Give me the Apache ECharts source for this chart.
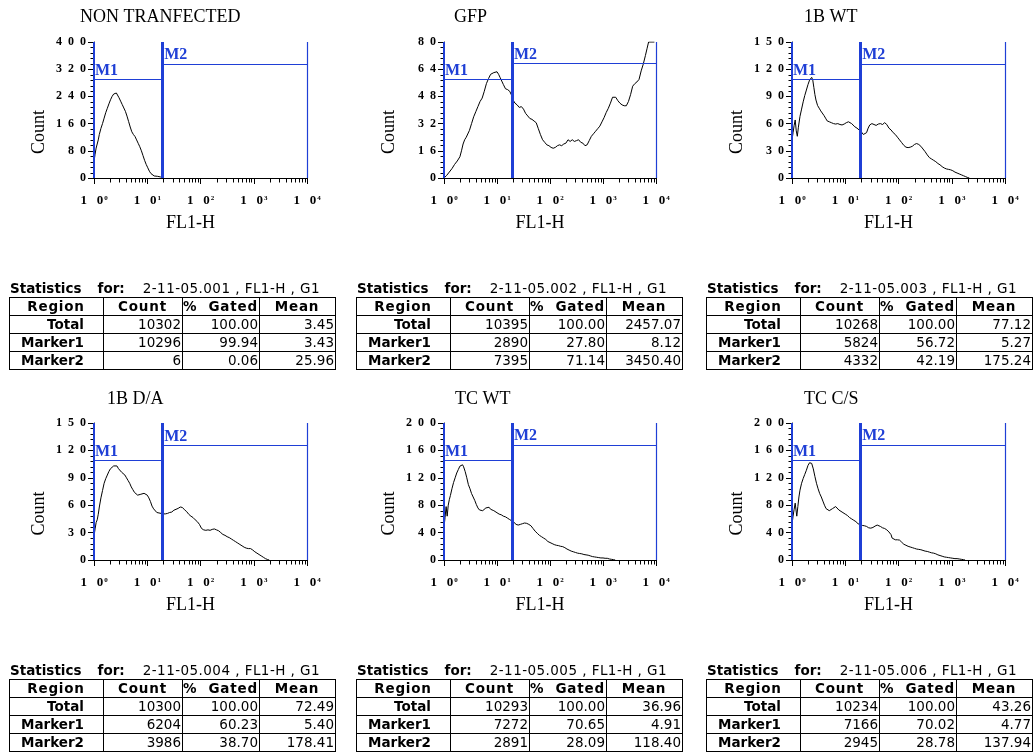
<!DOCTYPE html>
<html>
<head>
<meta charset="utf-8">
<script src="https://cdn.jsdelivr.net/npm/echarts@6/dist/echarts.min.js"></script>
<style>
html, body { margin: 0; padding: 0; background: #fff; overflow: hidden; }
#chart { position: absolute; left: 0; top: 0; width: 1034px; height: 752px; }
.stat { position: absolute; font-family: "DejaVu Sans", sans-serif; color: #000; }
.stat .cap { font-size: 13.5px; height: 18px; line-height: 18px; white-space: nowrap; padding-left: 1px; }
.stat .cap b { font-weight: bold; }
.stat .cap .for { margin-left: 16px; margin-right: 18px; }
.stat .cap .file { letter-spacing: 0.45px; }
.stat table { border-collapse: collapse; table-layout: fixed; width: 326px; }
.stat td { border: 1px solid #000; height: 17px; padding: 0 1px 0 0; font-size: 13.5px; line-height: 17px;
  text-align: right; white-space: nowrap; overflow: hidden; }
.stat tr.h td { text-align: center; font-weight: bold; letter-spacing: 0.8px; }
.stat td.r { font-weight: bold; padding-right: 19px; }
</style>
</head>
<body>
<div id="chart"></div>
<script>
// histogram traces: [FL1-H decade (log10), count]
var ntHist = [[0.00,48],[0.02,70],[0.04,88],[0.06,100],[0.08,112],[0.10,128],[0.13,146],[0.16,160],[0.19,176],[0.22,192],
  [0.25,205],[0.28,218],[0.31,230],[0.34,240],[0.37,247],[0.40,252],[0.42,250],[0.44,246],[0.47,236],[0.50,226],
  [0.53,216],[0.56,206],[0.59,196],[0.62,182],[0.65,166],[0.68,150],[0.71,136],[0.74,128],[0.77,122],[0.80,112],
  [0.83,102],[0.86,92],[0.89,80],[0.92,66],[0.95,52],[0.98,40],[1.01,30],[1.04,20],[1.07,13],[1.10,9],
  [1.13,6],[1.16,6],[1.19,5],[1.22,4],[1.25,3],[1.28,1],[1.30,0]];
var gfpHist = [[0.00,0],[0.05,1.5],[0.10,3.5],[0.15,5.5],[0.20,8],[0.25,10],[0.30,12.5],[0.33,16],[0.36,20],[0.39,22.5],
  [0.42,24],[0.45,25],[0.48,28],[0.52,32],[0.56,36],[0.60,39],[0.64,42],[0.68,45],[0.72,47],[0.76,51],
  [0.80,55.5],[0.84,58.5],[0.88,61],[0.91,61],[0.94,62],[0.97,61.5],[1.00,62.5],[1.03,61],[1.06,59],[1.09,57],
  [1.12,55],[1.16,52.5],[1.20,52],[1.24,51],[1.27,49],[1.30,46],[1.34,44],[1.38,43],[1.42,41.5],[1.46,42],
  [1.50,40.5],[1.54,38],[1.58,36.5],[1.62,35],[1.66,34.5],[1.70,33.5],[1.74,32.5],[1.78,29],[1.82,25.5],[1.86,22.5],
  [1.90,21],[1.94,19.5],[1.98,19],[2.02,18],[2.06,17.5],[2.10,18],[2.14,19],[2.18,19.5],[2.22,19],[2.26,20],
  [2.30,20.5],[2.34,22.5],[2.38,21.5],[2.42,22.5],[2.46,21.5],[2.50,22],[2.54,22.5],[2.58,21],[2.62,20.5],[2.66,19],
  [2.70,19.5],[2.74,22],[2.78,24.5],[2.82,26],[2.86,27.5],[2.90,29],[2.94,30.5],[2.98,33],[3.02,35.5],[3.06,38.5],
  [3.10,41],[3.14,44],[3.18,47.5],[3.21,48.5],[3.24,47.5],[3.28,45.5],[3.32,44],[3.36,43],[3.40,42.5],[3.44,42.5],
  [3.48,45],[3.52,49],[3.56,54],[3.60,55.5],[3.64,56.5],[3.68,58],[3.72,63],[3.76,67],[3.80,72],[3.83,76],
  [3.86,80],[3.97,80]];
var wt1bHist = [[0.00,42],[0.02,50],[0.04,58],[0.06,64],[0.08,52],[0.10,46],[0.12,56],[0.15,68],[0.18,76],[0.21,84],
  [0.24,91],[0.27,97],[0.30,103],[0.33,108],[0.35,110],[0.37,111],[0.39,108],[0.41,100],[0.43,92],[0.45,86],
  [0.48,80],[0.51,77],[0.54,74],[0.57,72],[0.60,69],[0.63,66],[0.66,63],[0.70,62],[0.74,61],[0.78,60],
  [0.82,59.5],[0.86,60],[0.90,59],[0.94,58.5],[0.98,59.5],[1.02,61],[1.06,62],[1.09,61],[1.12,60],[1.15,58],
  [1.18,56.5],[1.22,55],[1.26,53],[1.30,51],[1.34,48],[1.37,47],[1.40,50],[1.43,55],[1.46,58.5],[1.50,60],
  [1.54,59],[1.58,58],[1.62,59.5],[1.66,60],[1.70,59],[1.74,61],[1.78,59],[1.82,55],[1.86,53],[1.90,50],
  [1.94,48],[1.98,45],[2.02,42],[2.06,39],[2.10,36],[2.14,34],[2.18,33.5],[2.22,34],[2.26,35],[2.30,37],
  [2.34,38],[2.38,37],[2.42,35],[2.46,32],[2.50,29],[2.54,25.5],[2.58,22.5],[2.62,21],[2.66,19.5],[2.70,18],
  [2.74,16],[2.78,14.5],[2.82,12.5],[2.86,11],[2.90,10],[2.94,9.5],[2.98,9],[3.02,8],[3.06,6.5],[3.10,5.5],
  [3.14,4.5],[3.18,3.5],[3.22,2.5],[3.26,1.5],[3.30,0.5],[3.33,0]];
var da1bHist = [[0.00,26],[0.02,34],[0.04,41],[0.06,44],[0.08,50],[0.10,58],[0.13,68],[0.16,76],[0.19,84],[0.22,89],
  [0.25,93],[0.28,97],[0.31,100],[0.34,102],[0.37,103],[0.40,104],[0.43,103],[0.46,100],[0.49,98],[0.52,96],
  [0.55,95],[0.58,93],[0.61,90],[0.64,87],[0.67,84],[0.70,80],[0.73,77],[0.76,74],[0.79,72],[0.82,71],
  [0.85,72],[0.88,72],[0.91,72],[0.94,73],[0.97,73],[1.00,71],[1.03,68],[1.06,64],[1.09,59],[1.12,56],
  [1.15,54],[1.18,52],[1.22,51.5],[1.26,51],[1.30,50.5],[1.34,50.5],[1.38,51],[1.42,52],[1.46,52.5],[1.50,54.5],
  [1.54,55.5],[1.58,56.5],[1.62,58],[1.66,57.5],[1.70,55],[1.74,53],[1.78,50],[1.82,48],[1.86,46.5],[1.90,44],
  [1.94,42],[1.98,39],[2.02,34.5],[2.06,33],[2.10,32.5],[2.14,33],[2.18,32.5],[2.22,33.5],[2.26,34],[2.30,33],
  [2.34,32],[2.38,30],[2.42,28],[2.46,27],[2.50,25.5],[2.54,24.5],[2.58,23],[2.62,21.5],[2.66,20],[2.70,18.5],
  [2.74,17],[2.78,15.5],[2.82,14],[2.86,13],[2.90,12.5],[2.94,12.5],[2.98,11],[3.02,9],[3.06,7.5],[3.10,6],
  [3.14,4.5],[3.18,3],[3.22,1.5],[3.26,0.5],[3.29,0]];
var tcWtHist = [[0.00,48],[0.02,62],[0.04,78],[0.06,64],[0.08,80],[0.10,88],[0.12,94],[0.15,104],[0.18,113],[0.21,120],
  [0.24,127],[0.27,132],[0.30,137],[0.33,139],[0.35,139],[0.37,136],[0.40,129],[0.43,120],[0.46,110],[0.49,104],
  [0.52,97],[0.55,92],[0.58,87],[0.61,81],[0.64,76],[0.67,73],[0.70,71],[0.73,72],[0.76,73],[0.79,76],
  [0.82,77],[0.85,77],[0.88,74],[0.91,73],[0.94,72],[0.97,70],[1.00,69],[1.04,67],[1.08,66],[1.12,64],
  [1.16,63],[1.20,61],[1.24,59],[1.28,57],[1.32,55],[1.36,52],[1.40,51],[1.44,52],[1.48,53],[1.52,54],
  [1.56,53.5],[1.60,52],[1.64,50],[1.68,46],[1.72,42],[1.76,39],[1.80,36],[1.84,34],[1.88,32],[1.92,30],
  [1.96,27],[2.00,25.5],[2.04,24],[2.08,22.5],[2.12,21.5],[2.16,21],[2.20,20],[2.24,19.5],[2.28,18],[2.32,16],
  [2.36,14.5],[2.40,13],[2.44,12],[2.48,11],[2.52,10],[2.56,9.5],[2.60,9],[2.64,8],[2.68,7.5],[2.72,7],
  [2.76,6],[2.80,5],[2.84,4.5],[2.88,4],[2.92,3.5],[2.96,3],[3.00,3],[3.04,2.5],[3.08,2.5],[3.12,1.5],
  [3.16,1],[3.20,0.5],[3.23,0]];
var tcCsHist = [[0.00,52],[0.02,64],[0.04,74],[0.06,83],[0.08,70],[0.09,64],[0.11,78],[0.13,92],[0.15,102],[0.18,112],
  [0.21,119],[0.24,125],[0.27,131],[0.30,138],[0.33,142],[0.35,144],[0.37,141],[0.40,133],[0.43,122],[0.46,112],
  [0.49,104],[0.52,97],[0.55,92],[0.58,86],[0.61,80],[0.64,75],[0.67,73],[0.70,72],[0.73,73],[0.76,75],
  [0.79,77],[0.82,78],[0.85,76],[0.88,73],[0.91,72],[0.94,70],[0.97,68],[1.00,67],[1.04,65],[1.08,62],
  [1.12,60],[1.16,58],[1.20,56],[1.24,53],[1.28,51.5],[1.32,50.5],[1.36,50],[1.40,49],[1.44,47],[1.48,46.5],
  [1.52,47.5],[1.56,49.5],[1.60,51],[1.63,51.5],[1.66,49],[1.70,47],[1.74,46],[1.78,44],[1.82,41],[1.86,37],
  [1.88,32],[1.90,30],[1.94,29.5],[1.98,29.5],[2.02,29],[2.06,26],[2.10,23],[2.14,21.5],[2.18,20],[2.22,19],
  [2.26,18],[2.30,17],[2.34,16],[2.38,15.5],[2.42,15],[2.46,14],[2.50,13],[2.54,12.5],[2.58,11.5],[2.62,10.5],
  [2.66,10],[2.70,9],[2.74,7.5],[2.78,6.5],[2.82,5.5],[2.86,4.5],[2.90,4],[2.94,3.5],[2.98,3],[3.02,2.5],
  [3.06,2],[3.10,2],[3.14,1.5],[3.18,1],[3.22,0.5],[3.25,0]];

var panelTitles = ['NON TRANFECTED', 'GFP', '1B WT', '1B D/A', 'TC WT', 'TC C/S'];
var histograms = [ntHist, gfpHist, wt1bHist, da1bHist, tcWtHist, tcCsHist];
var countMax = [400, 80, 150, 150, 200, 200];
// marker gates (decades) and the height of each marker bar (counts)
var m1Gate = [0, 1.27];
var m2Gate = [1.30, 4];
var m1Level = [290, 58, 108.5, 109, 145, 145];
var m2Level = [336, 67.3, 125.6, 125.5, 167.4, 167.4];

// statistics tables
var statFile = ['2-11-05.001', '2-11-05.002', '2-11-05.003', '2-11-05.004', '2-11-05.005', '2-11-05.006'];
var statRegion = ['Total', 'Marker1', 'Marker2'];
var statCount = [[10302, 10296, 6], [10395, 2890, 7395], [10268, 5824, 4332],
  [10300, 6204, 3986], [10293, 7272, 2891], [10234, 7166, 2945]];
var statGated = [[100, 99.94, 0.06], [100, 27.80, 71.14], [100, 56.72, 42.19],
  [100, 60.23, 38.70], [100, 70.65, 28.09], [100, 70.02, 28.78]];
var statMean = [[3.45, 3.43, 25.96], [2457.07, 8.12, 3450.40], [77.12, 5.27, 175.24],
  [72.49, 5.40, 178.41], [36.96, 4.91, 118.40], [43.26, 4.77, 137.94]];

// layout
var gridBox = [[94, 42, 213, 136], [444, 42, 212, 136], [792, 42, 213, 136],
  [94, 423, 213, 137], [444, 423, 212, 137], [792, 423, 213, 137]];
var titlePos = [[80, 8], [454, 8], [804, 8], [107, 390], [455, 390], [804, 390]];
var tablePos = [[9, 279], [356, 279], [706, 279], [9, 661], [356, 661], [706, 661]];

var serif = '"Liberation Serif", "DejaVu Serif", serif';
var blue = '#1f3fd6';

// minor tick positions: 2..9 within each decade, 5 steps per count interval
var xMinor = [];
for (var e = 0; e < 4; e++) {
  for (var k = 2; k < 10; k++) xMinor.push([e + Math.log10(k), 0]);
}
function yMinor(max) {
  var out = [];
  for (var s = 1; s < 25; s++) if (s % 5) out.push([0, max * s / 25]);
  return out;
}

function tickItem(dir) {
  return function (params, api) {
    var p = api.coord([api.value(0), api.value(1)]);
    var x = Math.round(p[0]) + 0.5, y = Math.round(p[1]) + 0.5;
    var shape = dir === 'x' ? { x1: x, y1: y, x2: x, y2: y + 4 } : { x1: x - 4, y1: y, x2: x, y2: y };
    return { type: 'line', shape: shape, style: { stroke: '#000', lineWidth: 1 } };
  };
}

var grids = [], xAxes = [], yAxes = [], series = [], titles = [];
for (var i = 0; i < 6; i++) {
  var g = gridBox[i];
  grids.push({ left: g[0], top: g[1], width: g[2], height: g[3], containLabel: false });
  titles.push({
    text: panelTitles[i], left: titlePos[i][0], top: titlePos[i][1], padding: 0,
    textStyle: { fontFamily: serif, fontSize: 18, fontWeight: 'normal', color: '#000' }
  });
  xAxes.push({
    type: 'value', gridIndex: i, position: 'bottom', min: 0, max: 4, interval: 1,
    name: 'FL1-H', nameLocation: 'middle', nameGap: 36,
    nameTextStyle: { fontFamily: serif, fontSize: 18, color: '#000', padding: [0, 20, 0, 0] },
    axisLine: { show: true, lineStyle: { color: '#000', width: 1 } },
    axisTick: { show: true, length: 6, lineStyle: { color: '#000' } },
    splitLine: { show: false },
    axisLabel: {
      margin: 16, color: '#000',
      formatter: function (v) { return '{b|1   0}{s|' + v + '}'; },
      rich: {
        b: { fontFamily: serif, fontSize: 13, fontWeight: 'bold', color: '#000' },
        s: { fontFamily: serif, fontSize: 7, fontWeight: 'bold', color: '#000', verticalAlign: 'top', padding: [1, 0, 0, 1] }
      }
    }
  });
  yAxes.push({
    type: 'value', gridIndex: i, min: 0, max: countMax[i], interval: countMax[i] / 5,
    name: 'Count', nameLocation: 'middle', nameGap: 46,
    nameTextStyle: { fontFamily: serif, fontSize: 18, color: '#000', padding: [0, 44, 0, 0] },
    axisLine: { show: true, lineStyle: { color: '#000', width: 1 } },
    axisTick: { show: true, length: 6, lineStyle: { color: '#000' } },
    splitLine: { show: false },
    axisLabel: {
      margin: 8, color: '#000', fontFamily: serif, fontSize: 12, fontWeight: 'bold',
      formatter: function (v) { return String(v).split('').join('  '); }
    }
  });
  var labelStyle = {
    show: true, position: 'insideStartTop', distance: 1, color: blue,
    fontFamily: serif, fontSize: 16, fontWeight: 'bold'
  };
  series.push({
    type: 'line', name: panelTitles[i], xAxisIndex: i, yAxisIndex: i,
    data: histograms[i], showSymbol: false, symbol: 'none', clip: true,
    lineStyle: { color: '#000', width: 1 },
    markLine: {
      silent: true, symbol: ['none', 'none'], animation: false,
      lineStyle: { color: blue, type: 'solid', width: 1 },
      label: { show: false },
      emphasis: { disabled: true },
      data: [
        { xAxis: m1Gate[0], lineStyle: { width: 2 } },
        { xAxis: m1Gate[1], lineStyle: { width: 2 } },
        { xAxis: m2Gate[0], lineStyle: { width: 2 } },
        { xAxis: m2Gate[1], lineStyle: { width: 1.2 } },
        [{ coord: [m1Gate[0], m1Level[i]], label: Object.assign({ formatter: 'M1' }, labelStyle) },
         { coord: [m1Gate[1], m1Level[i]] }],
        [{ coord: [m2Gate[0], m2Level[i]], label: Object.assign({ formatter: 'M2' }, labelStyle) },
         { coord: [m2Gate[1], m2Level[i]] }]
      ]
    }
  });
  series.push({
    type: 'custom', name: 'x minor', xAxisIndex: i, yAxisIndex: i, clip: false, silent: true,
    renderItem: tickItem('x'), data: xMinor
  });
  series.push({
    type: 'custom', name: 'y minor', xAxisIndex: i, yAxisIndex: i, clip: false, silent: true,
    renderItem: tickItem('y'), data: yMinor(countMax[i])
  });
}

var chart = echarts.init(document.getElementById('chart'), null, { renderer: 'canvas' });
chart.setOption({
  animation: false,
  backgroundColor: '#fff',
  title: titles,
  grid: grids,
  xAxis: xAxes,
  yAxis: yAxes,
  series: series
});

// statistics tables
function fmt(v) { return v.toFixed(2); }
for (var t = 0; t < 6; t++) {
  var box = document.createElement('div');
  box.className = 'stat';
  box.style.left = tablePos[t][0] + 'px';
  box.style.top = tablePos[t][1] + 'px';
  var html = '<div class="cap"><b>Statistics</b><b class="for">for:</b><span class="file">' +
    statFile[t] + ' , FL1-H , G1</span></div>';
  html += '<table><colgroup><col style="width:94px"><col style="width:79px"><col style="width:77px"><col style="width:76px"></colgroup>';
  html += '<tr class="h"><td>Region</td><td>Count</td><td>%&nbsp;&nbsp;Gated</td><td>Mean</td></tr>';
  for (var r = 0; r < 3; r++) {
    html += '<tr><td class="r">' + statRegion[r] + '</td><td>' + statCount[t][r] + '</td><td>' +
      fmt(statGated[t][r]) + '</td><td>' + fmt(statMean[t][r]) + '</td></tr>';
  }
  html += '</table>';
  box.innerHTML = html;
  document.body.appendChild(box);
}
</script>
</body>
</html>
